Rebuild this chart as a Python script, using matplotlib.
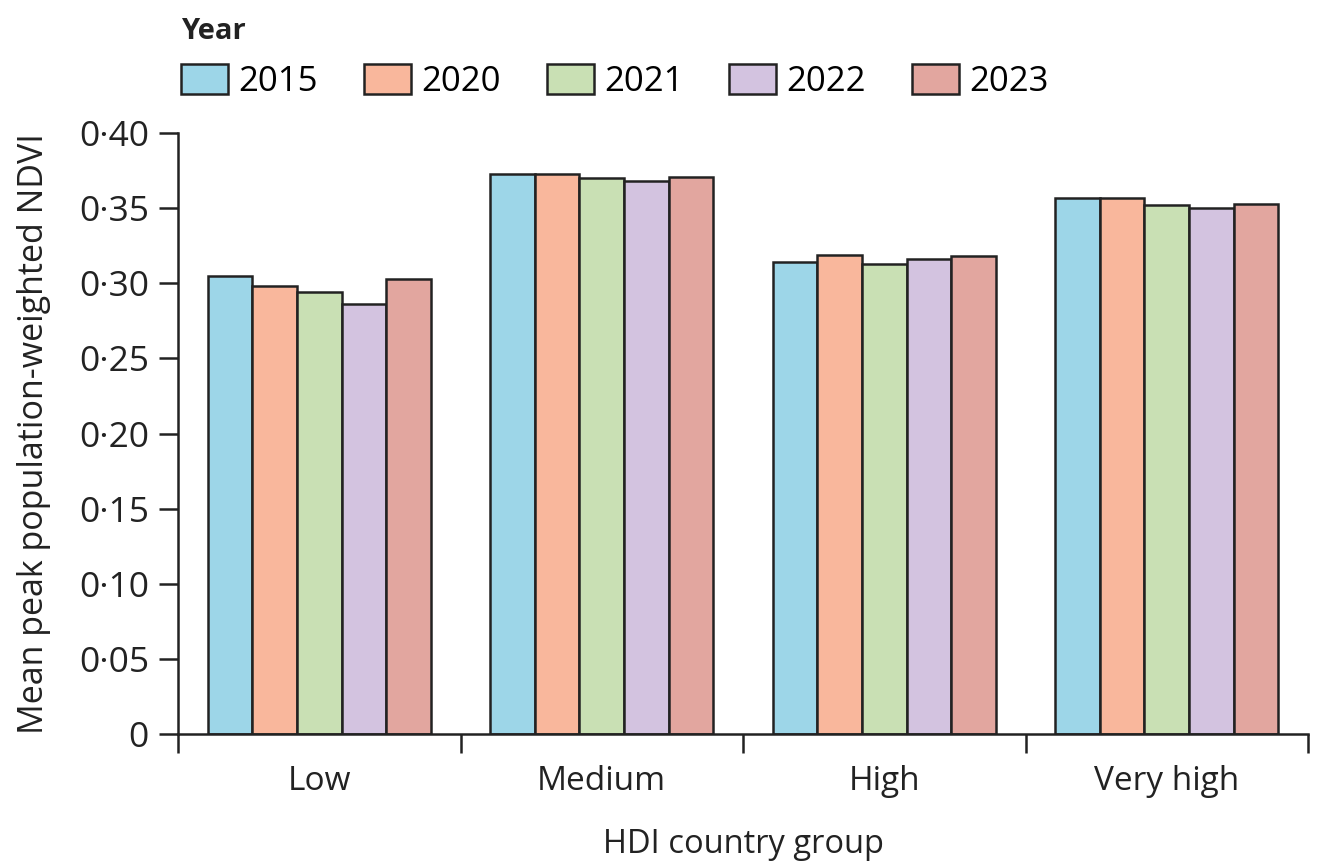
import matplotlib
matplotlib.use("Agg")
import matplotlib.pyplot as plt
import numpy as np
from matplotlib.ticker import FixedLocator, FuncFormatter

plt.rcParams["font.family"] = ["Open Sans", "Noto Sans", "DejaVu Sans"]

groups = ["Low", "Medium", "High", "Very high"]
years = ["2015", "2020", "2021", "2022", "2023"]
ndvi_2015 = [0.305, 0.373, 0.314, 0.357]
ndvi_2020 = [0.298, 0.373, 0.319, 0.357]
ndvi_2021 = [0.294, 0.370, 0.313, 0.352]
ndvi_2022 = [0.286, 0.368, 0.316, 0.350]
ndvi_2023 = [0.303, 0.371, 0.318, 0.353]
series = [ndvi_2015, ndvi_2020, ndvi_2021, ndvi_2022, ndvi_2023]
colors = ["#9DD6E8", "#F9B79C", "#C9E0B4", "#D3C3E0", "#E2A69F"]
INK = "#222222"

fig = plt.figure(figsize=(13.19, 8.66), dpi=100)
ax = fig.add_axes([0.135, 0.1524, 0.8567, 0.694])

x = np.arange(len(groups))
w = 0.158
handles = []
for i, (vals, col, yr) in enumerate(zip(series, colors, years)):
    b = ax.bar(x + (i - 2) * w, vals, width=w, color=col, edgecolor=INK,
               linewidth=1.8, label=yr, zorder=2)
    handles.append(b)

ax.set_xlim(-0.5, 3.5)
ax.set_ylim(0, 0.40)
ax.spines["top"].set_visible(False)
ax.spines["right"].set_visible(False)
for s in ("left", "bottom"):
    ax.spines[s].set_linewidth(1.8)
    ax.spines[s].set_color(INK)

ax.set_yticks(np.arange(0, 0.401, 0.05))
ax.yaxis.set_major_formatter(FuncFormatter(lambda v, p: "0" if v == 0 else f"{v:.2f}".replace(".", "\u00b7")))
ax.xaxis.set_major_locator(FixedLocator(np.arange(-0.5, 3.6, 1)))
ax.xaxis.set_minor_locator(FixedLocator(x))
ax.set_xticklabels([], minor=False)
ax.set_xticklabels(groups, minor=True)
ax.tick_params(axis="x", which="major", length=14, width=1.8, color=INK)
ax.tick_params(axis="x", which="minor", length=0, pad=22, labelsize=24, labelcolor=INK)
ax.tick_params(axis="y", length=14, width=1.8, color=INK, labelsize=25.5, labelcolor=INK, pad=7)

ax.set_ylabel("Mean peak population-weighted NDVI", fontsize=24.5, color=INK, labelpad=20)
ax.set_xlabel("HDI country group", fontsize=23.5, color=INK, labelpad=22)

leg = fig.legend(handles=handles, labels=years, loc="upper left", bbox_to_anchor=(0.127, 0.996),
                 ncol=5, frameon=False, fontsize=25, title="Year",
                 alignment="left", handlelength=1.35, handleheight=0.95,
                 handletextpad=0.3, columnspacing=1.32, borderaxespad=0)
leg.get_title().set_fontsize(21)
leg.get_title().set_fontweight("bold")
leg.get_title().set_color(INK)

fig.savefig("out.png", dpi=100, facecolor="white")
